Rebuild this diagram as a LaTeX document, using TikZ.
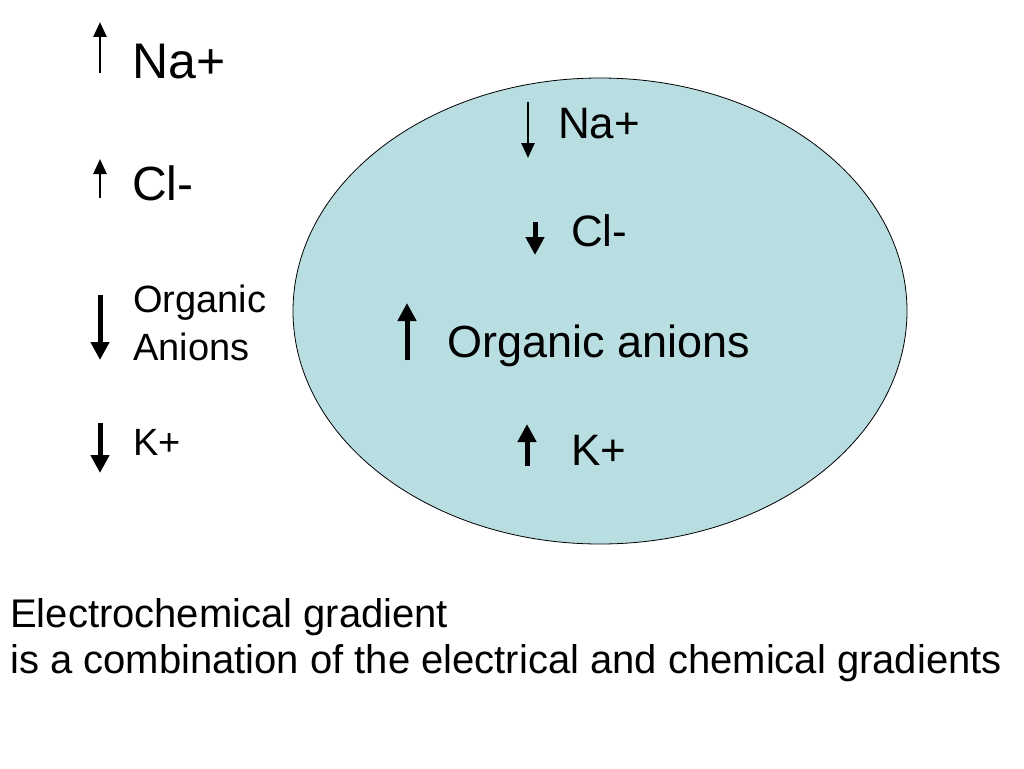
\documentclass[tikz,border=0pt]{standalone}
\usepackage{fontspec}
\setmainfont{Liberation Sans}
\usepackage{tikz}
\usetikzlibrary{shapes.geometric, arrows.meta}
\definecolor{cellblue}{RGB}{185,222,226}

\begin{document}
\begin{tikzpicture}[x=1pt, y=-1pt,
  ion/.style={anchor=base west, inner sep=0pt},
  thin arrow/.style={line width=2.6pt, -{Triangle[length=15pt, width=13pt]}},
  thick arrow/.style={line width=5pt, -{Triangle[length=18pt, width=18pt]}}]

\useasboundingbox (0,0) rectangle (1024,768);

% cell
\node[ellipse, draw, line width=0.8pt, fill=cellblue,
  minimum width=614, minimum height=466] (cell) at (600,311) {};

% outside
\node[ion, font=\fontsize{50}{56}\selectfont] (naOut) at (132,78) {Na+};
\node[ion, font=\fontsize{48}{54}\selectfont] (clOut) at (132,200) {Cl-};
\node[ion, font=\fontsize{38}{48}\selectfont] (orgOut) at (133,312) {Organic};
\node[ion, font=\fontsize{38}{48}\selectfont] (anOut) at (133,360) {Anions};
\node[ion, font=\fontsize{38}{48}\selectfont] (kOut) at (133,455) {K+};

\draw[thin arrow] (100,73) -- (100,22);
\draw[thin arrow] (100,198) -- (100,159);
\draw[thick arrow] (100,295) -- (100,360);
\draw[thick arrow] (100,423) -- (100,473);

% inside
\node[ion, font=\fontsize{44}{50}\selectfont] (naIn) at (558,138) {Na+};
\node[ion, font=\fontsize{44}{50}\selectfont] (clIn) at (571,246) {Cl-};
\node[ion, font=\fontsize{45}{50}\selectfont] (orgIn) at (447,357) {Organic anions};
\node[ion, font=\fontsize{44}{50}\selectfont] (kIn) at (571,465) {K+};

\draw[thin arrow] (528,102) -- (528,158);
\draw[thick arrow] (535,222) -- (535,255);
\draw[thick arrow] (407,360) -- (407,303);
\draw[thick arrow] (527,466) -- (527,424);

% caption
\node[ion, font=\fontsize{40}{46}\selectfont] (capTop) at (10,627) {Electrochemical gradient};
\node[ion, font=\fontsize{40}{46}\selectfont] (capBot) at (10,673)
  {is a combination of the electrical and chemical gradients};

\end{tikzpicture}
\end{document}
